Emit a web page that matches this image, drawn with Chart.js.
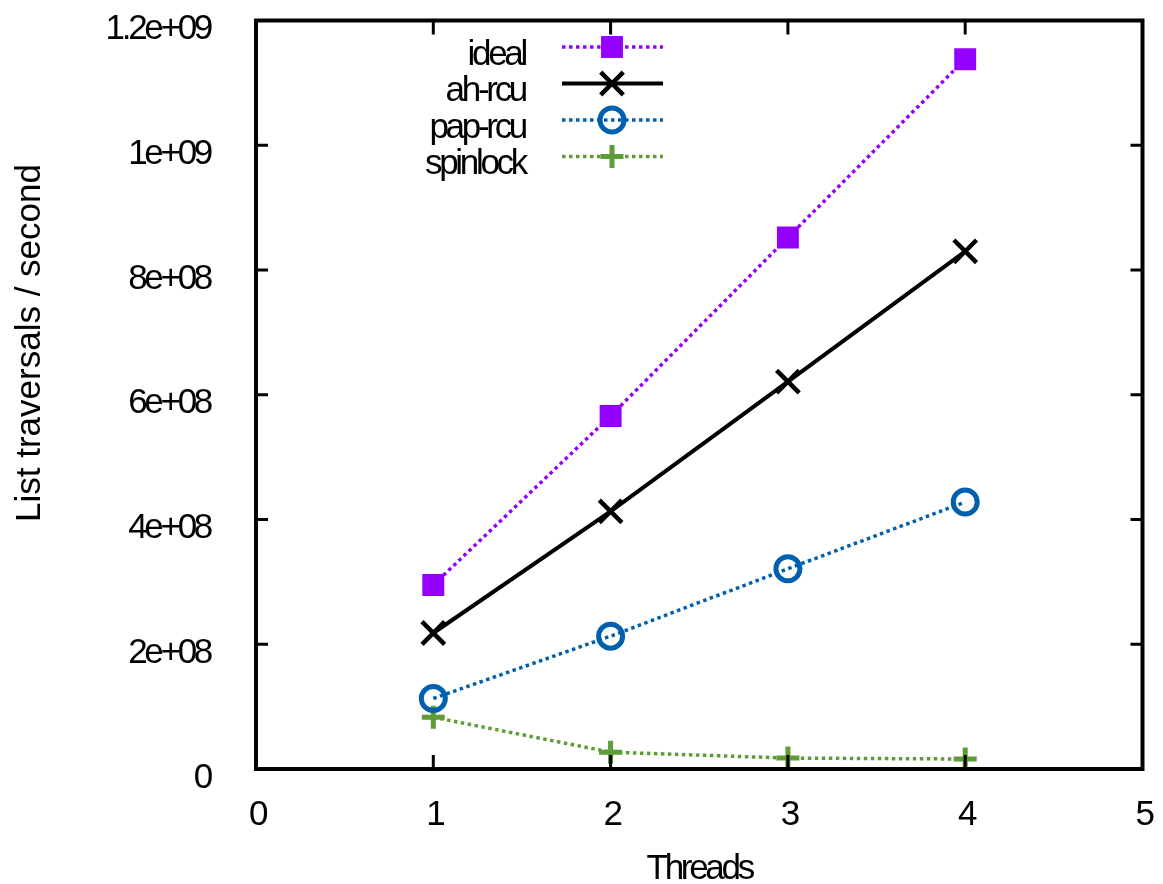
<!DOCTYPE html>
<html>
<head>
<meta charset="utf-8">
<script src="https://cdn.jsdelivr.net/npm/chart.js@4.4.0/dist/chart.umd.min.js"></script>
<style>
  body { margin: 0; background: #fff; }
  #wrap { width: 1163px; height: 884px; }
</style>
</head>
<body>
<div id="wrap"><canvas id="traversalChart"></canvas></div>
<script>
var threads = [1, 2, 3, 4];
var xTicks = [0, 1, 2, 3, 4, 5];
var yTicks = [0, 2e8, 4e8, 6e8, 8e8, 1e9, 1.2e9];

var ideal    = [2.95e8, 5.66e8, 8.52e8, 1.138e9];
var ahRcu    = [2.18e8, 4.13e8, 6.21e8, 8.30e8];
var papRcu   = [1.13e8, 2.13e8, 3.21e8, 4.28e8];
var spinlock = [8.3e7, 2.7e7, 1.75e7, 1.6e7];

var FONT = "'Liberation Sans', Arial, sans-serif";

function points(values) {
  return threads.map(function (t, i) { return { x: t, y: values[i] }; });
}

// gnuplot style: 2e+08, 1.2e+09
function fmtTick(v) {
  if (v === 0) return '0';
  return v.toExponential().replace(/e\+(\d)$/, 'e+0$1');
}

// frame, inward ticks, rotated y title and the gnuplot-like key
var gnuplotFrame = {
  id: 'gnuplotFrame',
  beforeDraw: function (chart) {
    chart.ctx.letterSpacing = '-3.3px';
  },
  afterDraw: function (chart) {
    var ctx = chart.ctx, a = chart.chartArea;
    var xs = chart.scales.x, ys = chart.scales.y;
    ctx.save();
    ctx.strokeStyle = '#000';
    ctx.lineWidth = 3;
    ctx.beginPath();
    xTicks.slice(1, -1).forEach(function (v) {
      var px = xs.getPixelForValue(v);
      ctx.moveTo(px, a.bottom); ctx.lineTo(px, a.bottom - 14);
      ctx.moveTo(px, a.top); ctx.lineTo(px, a.top + 14);
    });
    yTicks.slice(1, -1).forEach(function (v) {
      var py = ys.getPixelForValue(v);
      ctx.moveTo(a.left, py); ctx.lineTo(a.left + 12, py);
      ctx.moveTo(a.right, py); ctx.lineTo(a.right - 12, py);
    });
    ctx.stroke();
    ctx.lineWidth = 4;
    ctx.strokeRect(a.left, a.top, a.right - a.left, a.bottom - a.top);

    // y axis title
    ctx.save();
    ctx.letterSpacing = '0px';
    ctx.translate(30, 343);
    ctx.rotate(-Math.PI / 2);
    ctx.font = '35px ' + FONT;
    ctx.fillStyle = '#000';
    ctx.textAlign = 'center';
    ctx.textBaseline = 'middle';
    ctx.fillText('List traversals / second', 0, 0);
    ctx.restore();

    // key
    chart.data.datasets.forEach(function (ds, i) {
      var rowY = 47 + i * 36.5;
      ctx.setLineDash(ds.borderDash || []);
      ctx.lineWidth = ds.borderWidth;
      ctx.strokeStyle = ds.borderColor;
      ctx.beginPath();
      ctx.moveTo(562, rowY); ctx.lineTo(663, rowY);
      ctx.stroke();
      ctx.setLineDash([]);
      ctx.fillStyle = ds.pointBackgroundColor;
      ctx.strokeStyle = ds.pointBorderColor;
      ctx.lineWidth = ds.pointBorderWidth;
      Chart.helpers.drawPoint(ctx, {
        pointStyle: ds.pointStyle, radius: ds.pointRadius,
        rotation: 0, borderWidth: ds.pointBorderWidth
      }, 612, rowY);
      ctx.font = '35px ' + FONT;
      ctx.fillStyle = '#000';
      ctx.textAlign = 'right';
      ctx.textBaseline = 'middle';
      ctx.fillText(ds.label, 525, rowY + 8);
    });
    ctx.restore();
  }
};

function noPad(s) {
  s.paddingTop = 0; s.paddingBottom = 0;
  s.paddingLeft = 0; s.paddingRight = 0;
}

var ctx = document.getElementById('traversalChart').getContext('2d');
var chart = new Chart(ctx, {
  type: 'line',
  data: {
    datasets: [{
      label: 'ideal',
      data: points(ideal),
      borderColor: '#9400ff', borderWidth: 3.5, borderDash: [3.5, 3.5],
      pointStyle: 'rect', pointRadius: 15.5,
      pointBackgroundColor: '#9400ff', pointBorderColor: '#9400ff', pointBorderWidth: 0
    }, {
      label: 'ah-rcu',
      data: points(ahRcu),
      borderColor: '#000000', borderWidth: 4,
      pointStyle: 'crossRot', pointRadius: 16,
      pointBackgroundColor: '#000000', pointBorderColor: '#000000', pointBorderWidth: 4.5
    }, {
      label: 'pap-rcu',
      data: points(papRcu),
      borderColor: '#0060ad', borderWidth: 3.5, borderDash: [3.5, 3.5],
      pointStyle: 'circle', pointRadius: 12,
      pointBackgroundColor: 'rgba(0,0,0,0)', pointBorderColor: '#0060ad', pointBorderWidth: 5
    }, {
      label: 'spinlock',
      data: points(spinlock),
      borderColor: '#5e9c36', borderWidth: 3.5, borderDash: [3.5, 3.5],
      pointStyle: 'cross', pointRadius: 11.5,
      pointBackgroundColor: '#5e9c36', pointBorderColor: '#5e9c36', pointBorderWidth: 5
    }]
  },
  options: {
    responsive: true,
    maintainAspectRatio: false,
    animation: false,
    layout: { padding: { top: 14, right: 18, left: 0, bottom: 0 } },
    plugins: { legend: { display: false }, tooltip: { enabled: false } },
    scales: {
      x: {
        type: 'linear', min: 0, max: 5,
        afterBuildTicks: function (s) { s.ticks = xTicks.map(function (v) { return { value: v }; }); },
        afterFit: function (s) { s.height = 115; noPad(s); },
        grid: { display: false, drawTicks: false, tickLength: 0 },
        border: { display: false },
        ticks: { padding: 25, labelOffset: 1, maxRotation: 0, color: '#000', font: { family: FONT, size: 35 } },
        title: {
          display: true, text: 'Threads', color: '#000', padding: 0,
          font: { family: FONT, size: 35, lineHeight: 0.85 }
        }
      },
      y: {
        min: 0, max: 1.2e9,
        afterBuildTicks: function (s) { s.ticks = yTicks.map(function (v) { return { value: v }; }); },
        afterFit: function (s) { s.width = 256; noPad(s); },
        grid: { display: false, drawTicks: false, tickLength: 0 },
        border: { display: false },
        ticks: { padding: 46, labelOffset: 9, color: '#000', callback: fmtTick, font: { family: FONT, size: 35 } }
      }
    }
  },
  plugins: [gnuplotFrame]
});
</script>
</body>
</html>
